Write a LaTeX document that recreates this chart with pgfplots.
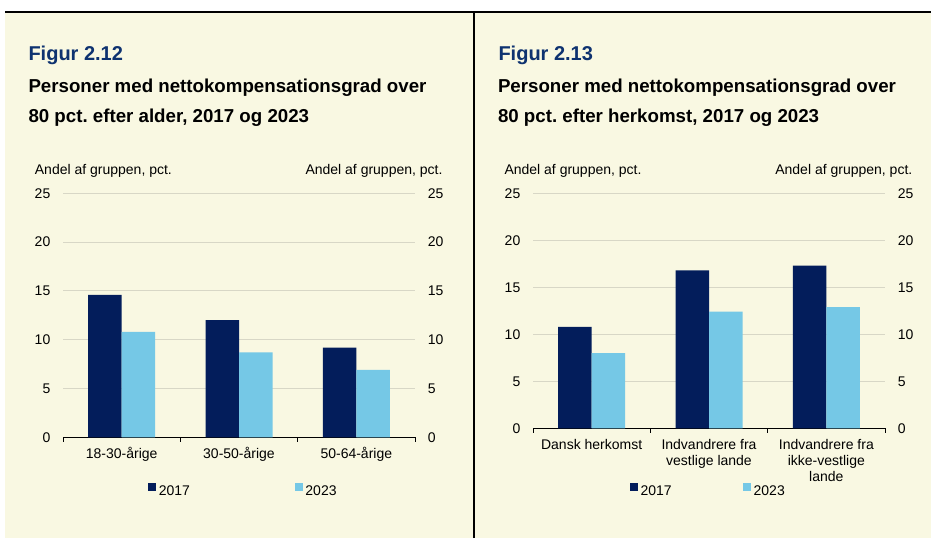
\documentclass[border=0pt]{standalone}
\usepackage{fontspec}
\setmainfont{Liberation Sans}
\usepackage{pgfplots}
\pgfplotsset{compat=1.18}
\frenchspacing
\definecolor{bgc}{RGB}{249,248,226}
\definecolor{navy}{RGB}{3,29,91}
\definecolor{lblue}{RGB}{117,200,230}
\definecolor{titleblue}{RGB}{14,50,112}
\definecolor{gridc}{RGB}{216,215,198}

\pgfplotsset{
  mybase/.style={
    scale only axis, width=352pt, anchor=south west,
    xmin=0.5, xmax=3.5, ymin=0, ymax=25, ytick={0,5,...,25},
    /pgf/number format/assume math mode=true,
    tick label style={font=\fontsize{14}{16}\selectfont, inner sep=0pt},
    major tick length=0pt,
  },
  barax/.style={mybase,
    ybar=0pt, bar width=33.5pt,
    axis x line*=bottom, axis y line*=left,
    y axis line style={draw=none},
    x axis line style={black, line width=1.2pt},
    xtick={1,2,3},
    minor xtick={0.5,1.5,2.5,3.5},
    minor tick length=4.5pt,
    tick align=outside,
    minor x tick style={black, line width=0.8pt},
    ymajorgrids, major grid style={gridc, line width=0.8pt},
    yticklabel style={anchor=east, xshift=-12.5pt},
    xticklabel style={anchor=base, yshift=-21pt},
    legend columns=2,
    legend image code/.code={\fill[##1] (0pt,0.2pt) rectangle (8pt,8.3pt);},
    legend style={draw=none, fill=none, inner sep=0pt, outer sep=0pt, anchor=west,
      nodes={inner sep=0pt, font=\fontsize{14}{16}\selectfont},
      /tikz/every odd column/.append style={column sep=2.5pt}},
  },
  labax/.style={mybase, axis y line*=right, hide x axis, y axis line style={draw=none},
    yticklabel style={anchor=west, xshift=12.7pt}},
}

\begin{document}
\begin{tikzpicture}[x=1pt,y=1pt]
\useasboundingbox (0,0) rectangle (931,538);
\fill[white] (0,0) rectangle (931,538);
\fill[bgc] (5,0) rectangle (931,526);
\draw[black, line width=2pt] (5,526) -- (931,526);
\draw[black, line width=2pt] (474.3,0) -- (474.3,526);

% left panel texts
\node[anchor=base west, inner sep=0, font=\bfseries\fontsize{20}{24}\selectfont, text=titleblue] at (28.3,477) {Figur 2.12};
\node[anchor=base west, inner sep=0, font=\bfseries\fontsize{18.7}{22}\selectfont] at (28.3,445.3) {Personer med nettokompensationsgrad over};
\node[anchor=base west, inner sep=0, font=\bfseries\fontsize{18.7}{22}\selectfont] at (28.3,415.3) {80 pct. efter alder, 2017 og 2023};
\node[anchor=base west, inner sep=0, font=\fontsize{14}{16}\selectfont] at (34.7,363) {Andel af gruppen, pct.};
\node[anchor=base east, inner sep=0, font=\fontsize{14}{16}\selectfont] at (442.7,363) {Andel af gruppen, pct.};

% right panel texts
\node[anchor=base west, inner sep=0, font=\bfseries\fontsize{20}{24}\selectfont, text=titleblue] at (498.3,477) {Figur 2.13};
\node[anchor=base west, inner sep=0, font=\bfseries\fontsize{18.7}{22}\selectfont] at (497.8,445.3) {Personer med nettokompensationsgrad over};
\node[anchor=base west, inner sep=0, font=\bfseries\fontsize{18.7}{22}\selectfont] at (497.8,415.3) {80 pct. efter herkomst, 2017 og 2023};
\node[anchor=base west, inner sep=0, font=\fontsize{14}{16}\selectfont] at (504.3,363) {Andel af gruppen, pct.};
\node[anchor=base east, inner sep=0, font=\fontsize{14}{16}\selectfont] at (912.5,363) {Andel af gruppen, pct.};

% left chart
\begin{axis}[barax, at={(63pt,100.7pt)}, height=244pt,
  xticklabels={18-30-årige,30-50-årige,50-64-årige},
  legend style={at={(rel axis cs:0.2423,-0.216)},
    /tikz/every even column/.append style={column sep=105pt}}]
\addplot[fill=navy, draw=none] coordinates {(1,14.6) (2,12.0) (3,9.2)};
\addplot[fill=lblue, draw=none] coordinates {(1,10.8) (2,8.7) (3,6.9)};
\legend{2017,2023}
\end{axis}
\begin{axis}[labax, at={(63pt,100.7pt)}, height=244pt]
\end{axis}

% right chart
\begin{axis}[barax, at={(533pt,109.7pt)}, height=235pt,
  xticklabels={{\parbox[t]{130pt}{\centering Dansk herkomst}},
               {\parbox[t]{130pt}{\centering Indvandrere fra\\vestlige lande}},
               {\parbox[t]{130pt}{\centering Indvandrere fra\\ikke-vestlige\\lande}}},
  legend style={at={(rel axis cs:0.2756,-0.2626)},
    /tikz/every even column/.append style={column sep=71.5pt}}]
\addplot[fill=navy, draw=none] coordinates {(1,10.8) (2,16.8) (3,17.3)};
\addplot[fill=lblue, draw=none] coordinates {(1,8.0) (2,12.4) (3,12.9)};
\legend{2017,2023}
\end{axis}
\begin{axis}[labax, at={(533pt,109.7pt)}, height=235pt]
\end{axis}
\end{tikzpicture}
\end{document}
